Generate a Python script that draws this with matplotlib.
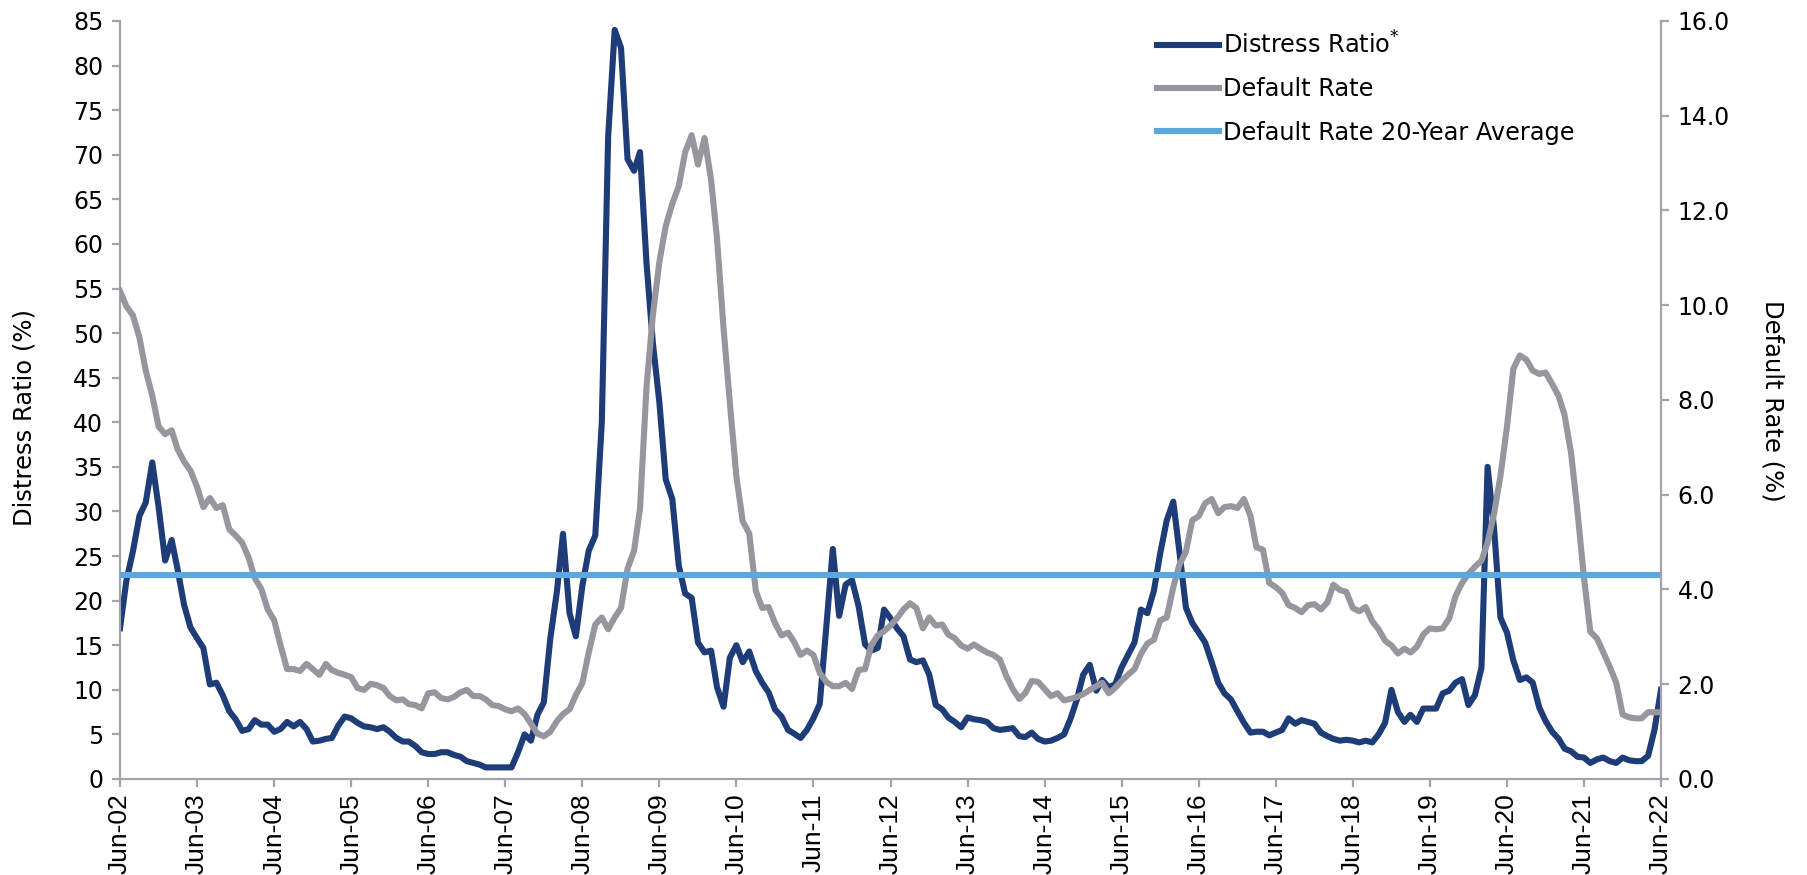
import matplotlib
matplotlib.use("Agg")
import matplotlib.pyplot as plt
import pandas as pd

# Monthly series, Jun-2002 .. Jun-2022 (one row per June-May year)
distress_ratio = [
    16.9, 22.2, 25.5, 29.5, 31.0, 35.5, 30.5, 24.5, 26.8, 23.5, 19.5, 17.0,
    15.8, 14.7, 10.6, 10.8, 9.4, 7.6, 6.7, 5.4, 5.6, 6.6, 6.1, 6.1,
    5.3, 5.6, 6.4, 5.9, 6.4, 5.6, 4.2, 4.3, 4.5, 4.6, 6.0, 7.0,
    6.8, 6.3, 5.9, 5.8, 5.6, 5.8, 5.3, 4.6, 4.2, 4.2, 3.7, 3.0,
    2.8, 2.8, 3.0, 3.0, 2.7, 2.5, 2.0, 1.8, 1.6, 1.3, 1.3, 1.3,
    1.3, 1.3, 3.0, 5.0, 4.3, 7.2, 8.6, 15.8, 21.0, 27.5, 18.6, 16.0,
    21.7, 25.6, 27.3, 40.0, 72.0, 84.0, 82.0, 69.5, 68.2, 70.3, 57.8, 48.9,
    42.2, 33.6, 31.4, 23.9, 20.8, 20.3, 15.3, 14.2, 14.4, 10.3, 8.1, 13.6,
    15.0, 13.1, 14.3, 12.1, 10.8, 9.7, 7.8, 7.0, 5.5, 5.1, 4.6, 5.5,
    6.8, 8.4, 17.0, 25.8, 18.3, 21.8, 22.3, 19.4, 15.1, 14.4, 14.7, 19.0,
    18.0, 16.9, 16.0, 13.4, 13.1, 13.3, 11.7, 8.3, 7.8, 6.9, 6.4, 5.8,
    6.9, 6.7, 6.6, 6.4, 5.7, 5.5, 5.6, 5.7, 4.8, 4.7, 5.2, 4.5,
    4.2, 4.3, 4.6, 5.0, 6.7, 8.9, 11.7, 12.8, 9.9, 11.1, 10.3, 10.6,
    12.5, 13.9, 15.3, 19.0, 18.6, 21.1, 25.3, 29.0, 31.1, 25.5, 19.2, 17.5,
    16.4, 15.3, 13.1, 10.8, 9.6, 8.9, 7.6, 6.3, 5.2, 5.3, 5.3, 4.9,
    5.2, 5.5, 6.8, 6.2, 6.6, 6.4, 6.2, 5.2, 4.8, 4.5, 4.3, 4.4,
    4.3, 4.1, 4.3, 4.1, 5.0, 6.3, 10.0, 7.5, 6.4, 7.2, 6.4, 7.9,
    7.9, 7.9, 9.6, 9.9, 10.8, 11.2, 8.3, 9.4, 12.5, 35.0, 28.0, 18.1,
    16.4, 13.3, 11.1, 11.4, 10.8, 8.0, 6.5, 5.3, 4.5, 3.4, 3.1, 2.5,
    2.4, 1.8, 2.2, 2.4, 2.0, 1.8, 2.4, 2.1, 2.0, 2.0, 2.6, 5.5,
    10.0,
]

default_rate = [
    10.30, 9.98, 9.79, 9.32, 8.62, 8.09, 7.44, 7.28, 7.36, 6.96, 6.70, 6.51,
    6.17, 5.74, 5.93, 5.72, 5.78, 5.27, 5.14, 4.99, 4.67, 4.24, 4.01, 3.58,
    3.35, 2.82, 2.32, 2.32, 2.28, 2.43, 2.32, 2.20, 2.43, 2.30, 2.24, 2.20,
    2.15, 1.92, 1.88, 2.01, 1.98, 1.92, 1.75, 1.66, 1.68, 1.58, 1.56, 1.49,
    1.81, 1.83, 1.71, 1.68, 1.73, 1.83, 1.88, 1.75, 1.75, 1.68, 1.56, 1.54,
    1.47, 1.43, 1.49, 1.37, 1.17, 0.96, 0.90, 1.00, 1.22, 1.37, 1.47, 1.77,
    2.03, 2.67, 3.26, 3.41, 3.16, 3.41, 3.61, 4.44, 4.82, 5.70, 8.28, 9.79,
    10.92, 11.67, 12.14, 12.52, 13.23, 13.59, 12.97, 13.53, 12.65, 11.41, 9.52, 7.94,
    6.38, 5.44, 5.18, 3.97, 3.61, 3.63, 3.29, 3.03, 3.09, 2.90, 2.62, 2.71,
    2.62, 2.24, 2.05, 1.96, 1.96, 2.03, 1.90, 2.30, 2.32, 2.82, 3.03, 3.12,
    3.24, 3.39, 3.58, 3.71, 3.61, 3.18, 3.41, 3.24, 3.26, 3.05, 2.97, 2.82,
    2.75, 2.84, 2.75, 2.67, 2.62, 2.52, 2.18, 1.90, 1.69, 1.81, 2.07, 2.05,
    1.90, 1.75, 1.81, 1.66, 1.69, 1.73, 1.79, 1.88, 1.96, 2.03, 1.81, 1.92,
    2.07, 2.20, 2.32, 2.64, 2.86, 2.94, 3.35, 3.41, 4.05, 4.52, 4.80, 5.46,
    5.55, 5.82, 5.91, 5.61, 5.74, 5.76, 5.72, 5.91, 5.55, 4.89, 4.84, 4.14,
    4.05, 3.93, 3.67, 3.61, 3.52, 3.67, 3.69, 3.58, 3.73, 4.10, 3.99, 3.95,
    3.61, 3.54, 3.63, 3.33, 3.16, 2.92, 2.82, 2.65, 2.75, 2.67, 2.79, 3.05,
    3.18, 3.16, 3.18, 3.39, 3.86, 4.14, 4.33, 4.48, 4.61, 4.99, 5.61, 6.40,
    7.44, 8.66, 8.94, 8.85, 8.62, 8.55, 8.58, 8.34, 8.08, 7.68, 6.87, 5.65,
    4.24, 3.11, 2.97, 2.67, 2.37, 2.03, 1.36, 1.30, 1.28, 1.28, 1.41, 1.41,
    1.41,
]

default_rate_avg_20y = 4.3

tick_years = list(range(2002, 2023))
left_ticks = list(range(0, 90, 5))
right_ticks = [0, 2, 4, 6, 8, 10, 12, 14, 16]

NAVY = "#1D3C78"
GRAY = "#97969F"
LIGHT = "#5CA8DE"
AXIS = "#A3A3AB"

dates = pd.date_range("2002-06-01", periods=len(distress_ratio), freq="MS")
rate_dates = pd.date_range("2002-06-01", periods=len(default_rate), freq="MS")

W, H = 1808, 875
fig = plt.figure(figsize=(W / 100, H / 100), dpi=100)
x0, x1, y_top, y_bot = 120, 1661, 21, 779
ax = fig.add_axes([x0 / W, 1 - y_bot / H, (x1 - x0) / W, (y_bot - y_top) / H])

ax.plot(dates, distress_ratio, color=NAVY, lw=4.4, solid_joinstyle="round",
        label="Distress Ratio$^{*}$")
ax.set_ylim(0, 85)
ax.set_xlim(dates[0], dates[-1])
ax.set_yticks(left_ticks)

ax2 = ax.twinx()
ax2.plot(rate_dates, default_rate, color=GRAY, lw=4.4, solid_joinstyle="round",
         label="Default Rate")
ax2.axhline(default_rate_avg_20y, color=LIGHT, lw=4.4,
            label="Default Rate 20-Year Average")
ax2.set_ylim(0, 16)
ax2.set_yticks(right_ticks)
ax2.set_yticklabels([f"{v:.1f}" for v in right_ticks])
ax2.set_xlim(dates[0], dates[-1])

xt = [pd.Timestamp(f"{y}-06-01") for y in tick_years]
ax.set_xticks(xt)
ax.set_xticklabels([t.strftime("%b-%y") for t in xt], rotation=90,
                   fontsize=19, family=["Liberation Sans", "DejaVu Sans"])

for a in (ax, ax2):
    a.spines["top"].set_visible(False)
    for side in ("left", "right", "bottom"):
        a.spines[side].set_color(AXIS)
        a.spines[side].set_linewidth(1.6)
    a.tick_params(axis="both", colors=AXIS, labelcolor="black",
                  direction="out", length=6, width=1.6)
ax.tick_params(axis="y", labelsize=17, pad=6)
ax2.tick_params(axis="y", labelsize=17, pad=6)
ax.tick_params(axis="x", pad=4)
ax.spines["right"].set_visible(False)
ax2.spines["left"].set_visible(False)
ax2.spines["bottom"].set_visible(False)

narrow = ["Liberation Sans Narrow", "DejaVu Sans Condensed", "DejaVu Sans"]
fig.text(25 / W, 1 - 417 / H, "Distress Ratio (%)", rotation=90,
         ha="center", va="center", fontsize=17.5, family=narrow)
fig.text(1773 / W, 1 - 401 / H, "Default Rate (%)", rotation=270,
         ha="center", va="center", fontsize=17.5, family=narrow)

h1, l1 = ax.get_legend_handles_labels()
h2, l2 = ax2.get_legend_handles_labels()
ax2.legend(h1 + h2, l1 + l2, loc="upper left",
           bbox_to_anchor=(1157 / W, 1 - 31 / H), bbox_transform=fig.transFigure,
           frameon=False, fontsize=17.3, handlelength=2.6, handletextpad=0.15,
           labelspacing=0.8, borderpad=0, borderaxespad=0)

fig.savefig("out.png", dpi=100)
